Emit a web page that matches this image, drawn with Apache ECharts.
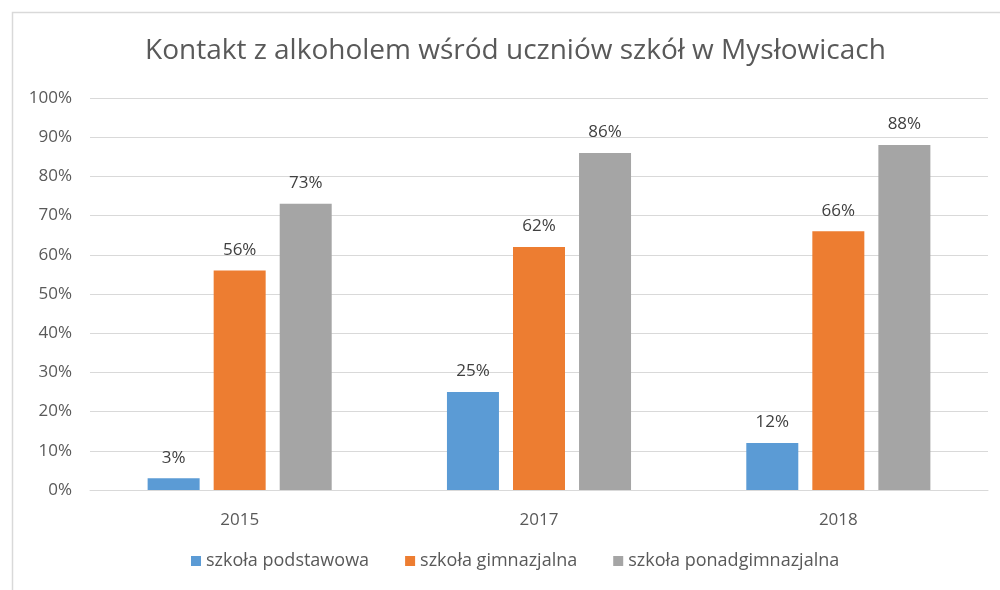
<!DOCTYPE html>
<html lang="pl">
<head>
    <meta charset="UTF-8">
    <title>Kontakt z alkoholem</title>
    <script src="https://cdn.jsdelivr.net/npm/echarts@6.0.0/dist/echarts.min.js"></script>
    <style>
        html, body { margin: 0; padding: 0; background: #fff; }
        #viz { width: 1000px; height: 590px; }
    </style>
</head>
<body>
    <div id="viz"></div>
    <script>
        const title = 'Kontakt z alkoholem wśród uczniów szkół w Mysłowicach';
        const years = ['2015', '2017', '2018'];
        const seriesNames = ['szkoła podstawowa', 'szkoła gimnazjalna', 'szkoła ponadgimnazjalna'];
        const podstawowa = [3, 25, 12];
        const gimnazjalna = [56, 62, 66];
        const ponadgimnazjalna = [73, 86, 88];
        const colors = ['#5B9BD5', '#ED7D31', '#A5A5A5'];

        const font = '"Open Sans", "Noto Sans", sans-serif';
        const values = [podstawowa, gimnazjalna, ponadgimnazjalna];

        const chart = echarts.init(document.getElementById('viz'), null, { renderer: 'canvas' });

        const option = {
            animation: false,
            textStyle: { fontFamily: font },
            graphic: [{
                type: 'rect',
                left: 10, top: 10,
                shape: { width: 1000, height: 600 },
                style: { fill: 'none', stroke: '#d9d9d9', lineWidth: 1.5 },
                silent: true
            }],
            title: {
                text: title,
                left: 140,
                top: 32,
                textStyle: { fontFamily: font, fontSize: 28, fontWeight: 'normal', color: '#595959' }
            },
            legend: {
                data: seriesNames,
                bottom: 15,
                left: 186,
                itemWidth: 10,
                itemHeight: 10,
                itemGap: 36,
                icon: 'rect',
                textStyle: { fontFamily: font, fontSize: 18, color: '#595959' }
            },
            grid: { left: 90, right: 12, top: 98, bottom: 100, containLabel: false },
            xAxis: {
                type: 'category',
                data: years,
                axisLine: { lineStyle: { color: '#d9d9d9' } },
                axisTick: { show: false },
                axisLabel: { fontFamily: font, fontSize: 17, color: '#595959', margin: 22 }
            },
            yAxis: {
                type: 'value',
                min: 0, max: 100, interval: 10,
                axisLine: { show: false },
                axisTick: { show: false },
                splitLine: { lineStyle: { color: '#d9d9d9' } },
                axisLabel: { fontFamily: font, fontSize: 17, color: '#595959', margin: 18, formatter: '{value}%' }
            },
            series: seriesNames.map((name, i) => ({
                name,
                type: 'bar',
                data: values[i],
                barWidth: 52,
                barGap: '27%',
                itemStyle: { color: colors[i] },
                label: {
                    show: true,
                    position: 'top',
                    distance: 12,
                    formatter: '{c}%',
                    fontFamily: font,
                    fontSize: 17,
                    color: '#404040'
                }
            }))
        };

        chart.setOption(option);
    </script>
</body>
</html>
